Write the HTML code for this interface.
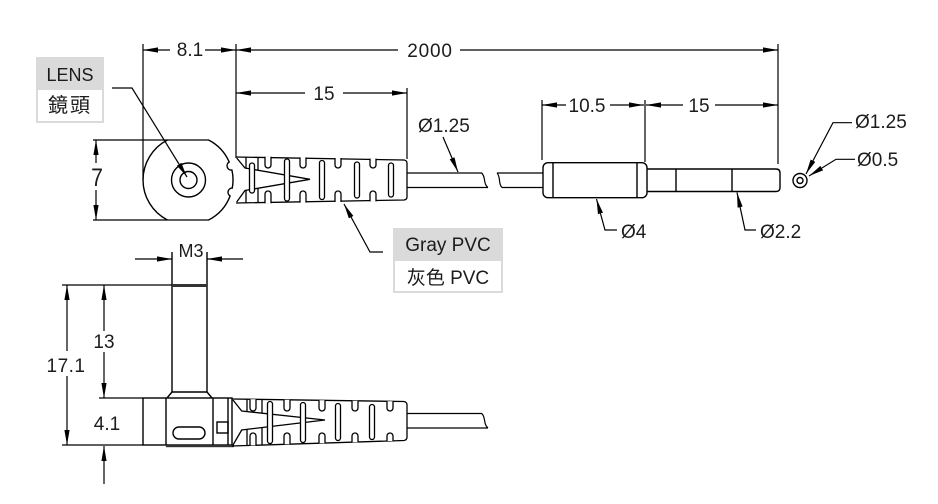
<!DOCTYPE html>
<html><head><meta charset="utf-8"><style>
html,body{margin:0;padding:0;background:#fff;}
svg{display:block;}
text{font-family:"Liberation Sans","Noto Sans CJK TC",sans-serif;font-size:19px;fill:#1e1b1c;}
</style></head><body>
<svg width="938" height="504" viewBox="0 0 938 504" xmlns="http://www.w3.org/2000/svg">
<defs>
<marker id="a" markerWidth="15" markerHeight="6" refX="15" refY="3" orient="auto" markerUnits="userSpaceOnUse"><path d="M0,0.4 L15,3 L0,5.6 z" fill="#000"/></marker>
</defs>

<!-- label boxes -->
<rect x="36" y="57" width="68" height="66" fill="#dadada"/>
<rect x="38" y="90" width="64" height="31" fill="#fff"/>
<text x="70" y="81" text-anchor="middle" style="font-size:18px">LENS</text>
<text x="70" y="112" text-anchor="middle" style="font-size:20px;letter-spacing:2px">鏡頭</text>

<rect x="393" y="228" width="110" height="65" fill="#dadada"/>
<rect x="395" y="261" width="106" height="30" fill="#fff"/>
<text x="448" y="251" text-anchor="middle" style="font-size:19px">Gray PVC</text>
<text x="448" y="284" text-anchor="middle" style="font-size:19px">灰色 PVC</text>

<g stroke="#000" stroke-width="1.2" fill="none">
<!-- ===== TOP VIEW DIMENSIONS ===== -->
<line x1="170" y1="50" x2="143" y2="50" marker-end="url(#a)"/>
<line x1="205" y1="50" x2="236" y2="50" marker-end="url(#a)"/>
<line x1="398" y1="50" x2="236" y2="50" marker-end="url(#a)"/>
<line x1="460" y1="50" x2="778" y2="50" marker-end="url(#a)"/>
<line x1="143" y1="44" x2="143" y2="180"/>
<line x1="236" y1="44" x2="236" y2="158"/>
<line x1="778" y1="44" x2="778" y2="164"/>

<line x1="305" y1="93" x2="236" y2="93" marker-end="url(#a)"/>
<line x1="343" y1="93" x2="407" y2="93" marker-end="url(#a)"/>
<line x1="407" y1="88" x2="407" y2="159"/>

<line x1="566" y1="105" x2="542" y2="105" marker-end="url(#a)"/>
<line x1="610" y1="105" x2="644" y2="105" marker-end="url(#a)"/>
<line x1="683" y1="105" x2="646" y2="105" marker-end="url(#a)"/>
<line x1="715" y1="105" x2="778" y2="105" marker-end="url(#a)"/>
<line x1="542" y1="100" x2="542" y2="160"/>
<line x1="645" y1="100" x2="645" y2="162"/>

<!-- dim 7 -->
<line x1="96" y1="163" x2="96" y2="140" marker-end="url(#a)"/>
<line x1="96" y1="190" x2="96" y2="220" marker-end="url(#a)"/>
<line x1="93" y1="140" x2="209" y2="140"/>
<line x1="93" y1="220" x2="209" y2="220"/>

<!-- LENS leader -->
<polyline points="112,88 132,88 187,177" marker-end="url(#a)"/>

<!-- ===== TOP VIEW HEAD ===== -->
<g stroke-width="1.4">
<path d="M167.4,140 A45,45 0 0 0 167.4,220"/>
<path d="M208.6,140 A45,45 0 0 1 229.2,162 A4.3,4.3 0 0 0 231.9,170 A45,45 0 0 1 232.3,188 A4.3,4.3 0 0 0 230.1,196 A45,45 0 0 1 208.6,220"/>
<circle cx="188.5" cy="180" r="17"/>
<circle cx="188.5" cy="180" r="8.5"/>
</g>

<!-- ===== TOP VIEW SLEEVE ===== -->
<g stroke-width="1.3">
<path d="M236,157 L404,160 Q407,160.5 407,163 L407,197 Q407,199.5 404,200 L236,203"/>
<path d="M236.7,158 L245,168 L310,179.3 L245,190.5 L236.7,202"/>
<line x1="246" y1="157.2" x2="246" y2="168"/>
<line x1="258" y1="157.4" x2="258" y2="170"/>
<line x1="246" y1="190.5" x2="246" y2="202.8"/>
<line x1="258" y1="188.5" x2="258" y2="202.6"/>
<g fill="#fff">
<path d="M265,156.8 L265,165 A3,3 0 0 0 271,165 L271,156.8"/>
<path d="M300,157.4 L300,165 A3,3 0 0 0 306,165 L306,157.4"/>
<path d="M335,158 L335,165 A3,3 0 0 0 341,165 L341,158"/>
<path d="M370,158.6 L370,165 A3,3 0 0 0 376,165 L376,158.6"/>
<path d="M265,203.2 L265,194 A3,3 0 0 1 271,194 L271,203.2"/>
<path d="M300,202.6 L300,194 A3,3 0 0 1 306,194 L306,202.6"/>
<path d="M335,202 L335,194 A3,3 0 0 1 341,194 L341,202"/>
<path d="M370,201.4 L370,194 A3,3 0 0 1 376,194 L376,201.4"/>
<rect x="249.5" y="163" width="5" height="30" rx="2.5"/>
<rect x="284.5" y="159" width="5" height="42" rx="2.5"/>
<rect x="319.5" y="160.5" width="5" height="39" rx="2.5"/>
<rect x="354.5" y="162" width="5" height="36" rx="2.5"/>
<rect x="388.5" y="163" width="5" height="34" rx="2.5"/>
</g>
</g>

<!-- cable top -->
<line x1="407" y1="173" x2="482" y2="173"/>
<line x1="407" y1="187.5" x2="488" y2="187.5"/>
<path d="M481.7,173 C486,177 483,184 488,187.5"/>
<line x1="497" y1="173" x2="543" y2="173"/>
<line x1="502" y1="187.5" x2="543" y2="187.5"/>
<path d="M497,173 C501,177 498,184 502,187.5"/>

<!-- ferrule & pin -->
<g stroke-width="1.4">
<rect x="543" y="162.7" width="104" height="35" rx="5"/>
<line x1="553" y1="163" x2="553" y2="197.5"/>
<line x1="637" y1="163" x2="637" y2="197.5"/>
<path d="M647,169 L776,169 Q780,169 780,173 L780,187.5 Q780,191.5 776,191.5 L647,191.5"/>
<line x1="676" y1="169" x2="676" y2="191.5"/>
<line x1="732" y1="169" x2="732" y2="191.5"/>
<circle cx="800" cy="180.5" r="7"/>
<circle cx="800" cy="180.5" r="3"/>
</g>

<!-- leaders top -->
<line x1="443" y1="137" x2="458" y2="172" marker-end="url(#a)"/>
<polyline points="852,122.7 833,122.7 806,174" marker-end="url(#a)"/>
<polyline points="855,159.3 836,159.3 809,176" marker-end="url(#a)"/>
<polyline points="617,230 605,230 596.5,199" marker-end="url(#a)"/>
<polyline points="756,230 745,230 737,192.5" marker-end="url(#a)"/>
<polyline points="383,252 370,252 344,204" marker-end="url(#a)"/>

<!-- ===== SIDE VIEW ===== -->
<line x1="135" y1="259" x2="172" y2="259" marker-end="url(#a)"/>
<line x1="243" y1="259" x2="207" y2="259" marker-end="url(#a)"/>
<line x1="62" y1="285" x2="172" y2="285"/>
<line x1="67" y1="351" x2="67" y2="285" marker-end="url(#a)"/>
<line x1="67" y1="376" x2="67" y2="445" marker-end="url(#a)"/>
<line x1="104" y1="331" x2="104" y2="285" marker-end="url(#a)"/>
<line x1="104" y1="352" x2="104" y2="398" marker-end="url(#a)"/>
<line x1="104" y1="484" x2="104" y2="446" marker-end="url(#a)"/>
<line x1="62" y1="445" x2="143" y2="445"/>
<line x1="99" y1="398" x2="143" y2="398"/>

<g stroke-width="1.4">
<!-- stem -->
<line x1="172" y1="252" x2="172" y2="392"/>
<line x1="207" y1="252" x2="207" y2="392"/>
<line x1="172" y1="392" x2="207" y2="392"/>
<line x1="172" y1="392" x2="167" y2="398"/>
<line x1="207" y1="392" x2="212" y2="398"/>
<rect x="172" y="284" width="35" height="3" fill="#333" stroke="none"/>
<!-- body -->
<rect x="143" y="398" width="89" height="47"/>
<line x1="166" y1="398" x2="166" y2="445"/>
<line x1="213" y1="398" x2="213" y2="445"/>
<line x1="228" y1="398" x2="228" y2="445"/>
<rect x="173" y="427" width="32" height="12" rx="6"/>
<rect x="217" y="422" width="11" height="11"/>
</g>
<rect x="166" y="445" width="68" height="2.2" fill="#333" stroke="none"/>

<g stroke-width="1.3">
<path d="M232,399 L404,401.5 Q407,402 407,405 L407,437 Q407,440 404,440.5 L232,446"/>
<path d="M233,400 L241.7,411 L325,420 L241.7,430 L233,445"/>
<line x1="247" y1="399.3" x2="247" y2="411.2"/>
<line x1="247" y1="429.5" x2="247" y2="445.4"/>
<line x1="262" y1="399.5" x2="262" y2="412.5"/>
<line x1="262" y1="428" x2="262" y2="445"/>
<g fill="#fff">
<path d="M250,399.2 L250,408 A3,3 0 0 0 256,408 L256,399.2"/>
<path d="M284,399.7 L284,408 A3,3 0 0 0 290,408 L290,399.7"/>
<path d="M319,400.2 L319,408 A3,3 0 0 0 325,408 L325,400.2"/>
<path d="M352,400.7 L352,408 A3,3 0 0 0 358,408 L358,400.7"/>
<path d="M387,401.2 L387,408 A3,3 0 0 0 393,408 L393,401.2"/>
<path d="M250,445.4 L250,436 A3,3 0 0 1 256,436 L256,445.4"/>
<path d="M284,444.3 L284,436 A3,3 0 0 1 290,436 L290,444.3"/>
<path d="M319,443.2 L319,436 A3,3 0 0 1 325,436 L325,443.2"/>
<path d="M352,442.2 L352,436 A3,3 0 0 1 358,436 L358,442.2"/>
<path d="M387,441 L387,436 A3,3 0 0 1 393,436 L393,441"/>
<rect x="267.5" y="401.5" width="5" height="42" rx="2.5"/>
<rect x="300.5" y="402.5" width="5" height="40" rx="2.5"/>
<rect x="335.5" y="403.5" width="5" height="37" rx="2.5"/>
<rect x="369.5" y="404.5" width="5" height="35" rx="2.5"/>
</g>
</g>
<line x1="407" y1="413.5" x2="482" y2="413.5"/>
<line x1="407" y1="428" x2="488" y2="428"/>
<path d="M481.7,413.5 C486,417 483,424 488,428"/>
</g>

<!-- texts -->
<text x="190" y="56" text-anchor="middle">8.1</text>
<text x="430" y="57" text-anchor="middle" style="letter-spacing:0.8px">2000</text>
<text x="324" y="100" text-anchor="middle">15</text>
<text x="587" y="112" text-anchor="middle">10.5</text>
<text x="699" y="112" text-anchor="middle">15</text>
<text x="418" y="132">Ø1.25</text>
<text x="855" y="128">Ø1.25</text>
<text x="857" y="166">Ø0.5</text>
<text x="621" y="238">Ø4</text>
<text x="760" y="238">Ø2.2</text>
<text x="97" y="186" text-anchor="middle" style="font-size:25px" transform="translate(97 0) scale(0.85 1) translate(-97 0)">7</text>
<text x="191" y="257" text-anchor="middle" style="font-size:18px">M3</text>
<text x="66" y="372" text-anchor="middle" style="letter-spacing:0.5px">17.1</text>
<text x="104" y="348" text-anchor="middle">13</text>
<text x="107" y="430" text-anchor="middle">4.1</text>
</svg>
</body></html>
